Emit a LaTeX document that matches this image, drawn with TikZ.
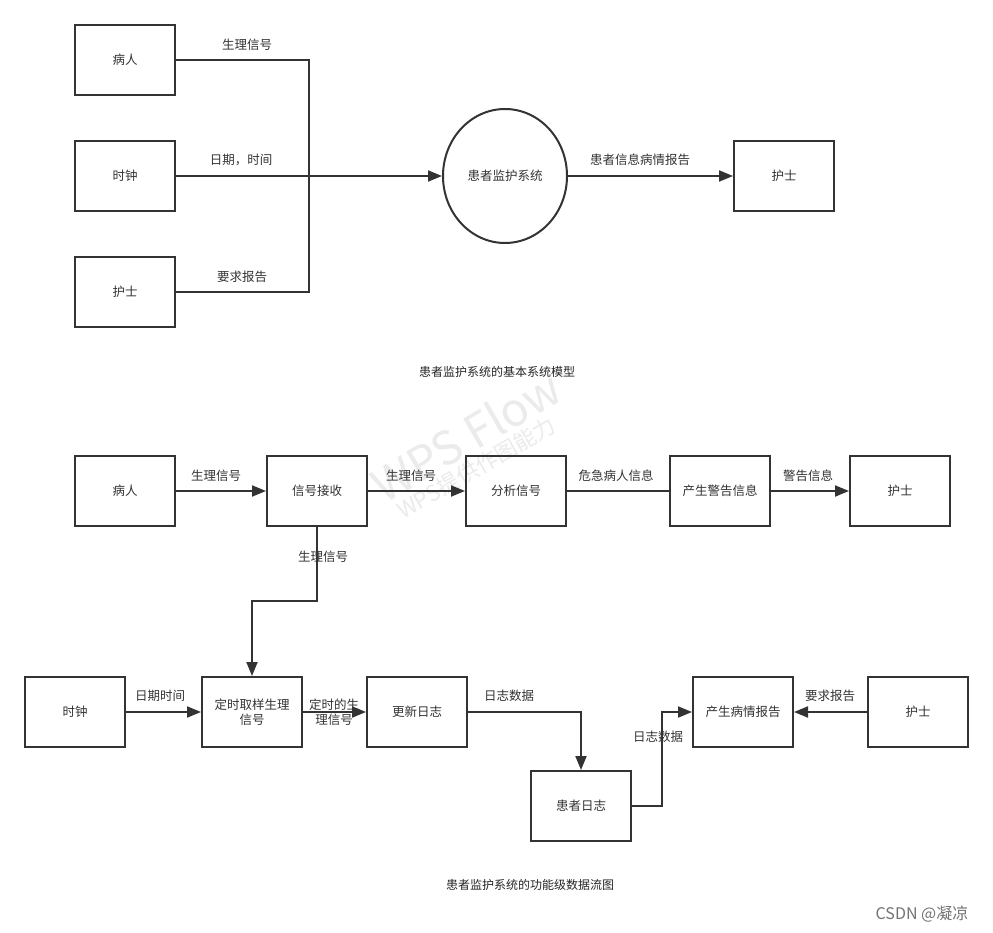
\documentclass[tikz,border=0pt]{standalone}
\usepackage{fontspec}
\setmainfont{Noto Sans CJK SC}
\usetikzlibrary{arrows.meta,shapes.geometric}
\definecolor{ink}{HTML}{333333}
\tikzset{
  box/.style={draw=ink, line width=2pt, minimum width=100pt, minimum height=70pt,
    inner sep=2pt, text=ink, font=\fontsize{12.5}{15}\selectfont, align=center, text width=92pt},
  proc/.style={draw=ink, line width=2pt, ellipse, minimum width=124pt, minimum height=134pt,
    inner sep=0pt, text=ink, font=\fontsize{12.5}{15}\selectfont},
  flow/.style={draw=ink, line width=2pt, -{Triangle[length=14pt,width=11pt]}},
  wire/.style={draw=ink, line width=2pt},
  lbl/.style={text=ink, font=\fontsize{12.5}{15}\selectfont, inner sep=0pt},
  caption/.style={text=black!85, font=\fontsize{12}{14}\selectfont, inner sep=0pt},
  wmark/.style={rotate=30, text=black!8, inner sep=0pt},
}
\begin{document}
\begin{tikzpicture}[x=1pt,y=-1pt]
\useasboundingbox[fill=white] (0,0) rectangle (993,933);

% watermark of the drawing tool
\node[wmark, font=\fontsize{46}{46}\selectfont] (wm1) at (466,436) {WPS Flow};
\node[wmark, font=\fontsize{22}{22}\selectfont] (wm2) at (476,468) {WPS提供作图能力};

% ---------- basic system model ----------
\node[box] (p1) at (125,60) {病人};
\node[box] (c1) at (125,176) {时钟};
\node[box] (n1) at (125,292) {护士};
\node[proc] (sys) at (505,176) {患者监护系统};
\node[box] (n2) at (784,176) {护士};
\coordinate (j) at (309,176);

\draw[wire] (p1.east) -| (j) |- (n1.east);
\draw[flow] (c1.east) -- (sys.west);
\draw[flow] (sys.east) -- (n2.west);

\node[lbl] at (247,45) {生理信号};
\node[lbl] at (241,160) {日期，时间};
\node[lbl] at (242,277) {要求报告};
\node[lbl] at (640,160) {患者信息病情报告};
\node[caption] (cap1) at (497,372) {患者监护系统的基本系统模型};

% ---------- functional data flow ----------
\node[box] (p2) at (125,491) {病人};
\node[box] (rx) at (317,491) {信号接收};
\node[box] (an) at (516,491) {分析信号};
\node[box] (al) at (720,491) {产生警告信息};
\node[box] (n3) at (900,491) {护士};

\node[box] (c2) at (75,712) {时钟};
\node[box] (sm) at (252,712) {定时取样生理\\信号};
\node[box] (up) at (417,712) {更新日志};
\node[box] (lg) at (581,806) {患者日志};
\node[box] (rp) at (743,712) {产生病情报告};
\node[box] (n4) at (918,712) {护士};

\draw[flow] (p2.east) -- (rx.west);
\draw[flow] (rx.east) -- (an.west);
\draw[wire] (an.east) -- (al.west);
\draw[flow] (al.east) -- (n3.west);
\draw[flow] (rx.south) -- (317,601) -| (sm.north);
\draw[flow] (c2.east) -- (sm.west);
\draw[flow] (sm.east) -- (up.west);
\draw[flow] (up.east) -| (lg.north);
\draw[flow] (lg.east) -- (662,806) |- (rp.west);
\draw[flow] (n4.west) -- (rp.east);

\node[lbl] at (216,476) {生理信号};
\node[lbl] at (411,476) {生理信号};
\node[lbl] at (616,476) {危急病人信息};
\node[lbl] at (808,476) {警告信息};
\node[lbl] at (323,557) {生理信号};
\node[lbl] at (160,696) {日期时间};
\node[lbl, align=center] at (334,712) {定时的生\\理信号};
\node[lbl] at (509,696) {日志数据};
\node[lbl] at (658,737) {日志数据};
\node[lbl] at (830,696) {要求报告};
\node[caption] (cap2) at (530,885) {患者监护系统的功能级数据流图};

\node[text=black!55, font=\fontsize{16}{16}\selectfont, inner sep=0pt] (mark) at (922,914) {CSDN @凝凉};
\end{tikzpicture}
\end{document}
